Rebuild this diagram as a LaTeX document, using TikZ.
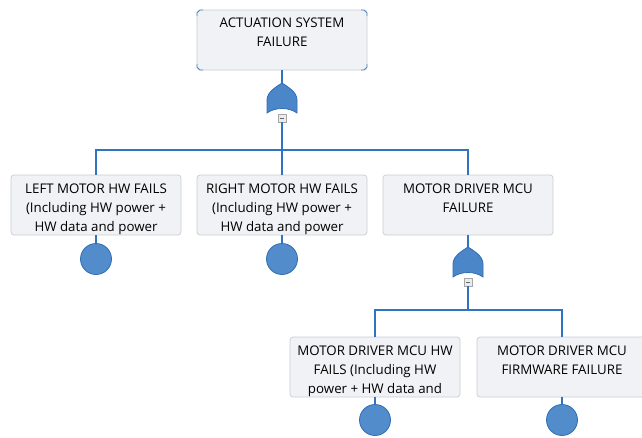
\documentclass[tikz,border=0pt]{standalone}
\usepackage{fontspec}
\setmainfont{Open Sans}
\usetikzlibrary{positioning}

\definecolor{boxfill}{HTML}{F1F2F5}
\definecolor{boxline}{HTML}{C9CCD1}
\definecolor{linkblue}{HTML}{2F74C0}
\definecolor{gateblue}{HTML}{4A86C8}
\definecolor{gateedge}{HTML}{2F6DB5}

% OR gate, drawn with its top point at the given coordinate
\newcommand{\orgate}[1]{%
  \begin{scope}[shift={(#1)}]
    \draw[gate] (-15,30) -- (-15,17) .. controls (-15,9) and (-6,4) .. (0,0)
      .. controls (6,4) and (15,9) .. (15,17) -- (15,30)
      .. controls (7,24) and (-7,24) .. (-15,30) -- cycle;
  \end{scope}}

\begin{document}
\begin{tikzpicture}[x=1pt,y=-1pt,
                    box/.style={draw=boxline,fill=boxfill,rounded corners=3pt,line width=0.7pt,
                                minimum width=170pt,minimum height=60pt,inner sep=0pt},
                    boxtext/.style={align=center,inner sep=0pt,font=\fontsize{13.3}{19}\selectfont,
                                    text=black},
                    gate/.style={fill=gateblue,draw=gateedge,line width=0.8pt},
                    collapse/.style={draw=black!35,fill=black!8,minimum size=8pt,inner sep=0pt,
                                     line width=0.5pt,
                                     path picture={\draw[black!60,line width=0.6pt] ([xshift=-2pt]path picture bounding box.center) -- ([xshift=2pt]path picture bounding box.center);}},
                    basic/.style={circle,fill=gateblue!95!white,draw=gateedge,line width=0.8pt,
                                  minimum size=31pt,inner sep=0pt},
                    link/.style={draw=linkblue,line width=2.8pt},
                    leaf/.style={draw=linkblue,line width=1.9pt}
]
\useasboundingbox (0,0) rectangle (642,437);

% Top event
\node[box] (top) at (282,40) {};
\node[boxtext,below=8.5pt of top.north] (toptxt) {ACTUATION SYSTEM\\FAILURE};
% selection marks on the corners
\foreach \cx/\cy/\dx/\dy in {197/10/1/1, 367/10/-1/1, 197/70/1/-1, 367/70/-1/-1}
  \draw[linkblue!80,line width=0.8pt] (\cx+\dx*6,\cy) -- (\cx+\dx*3,\cy) -- (\cx,\cy+\dy*3) -- (\cx,\cy+\dy*6);

% OR gate under the top event
\coordinate (gate1) at (282,83);
\orgate{gate1}
\node[collapse] (min1) at (282,118) {};
\coordinate (bar1) at (282,150);

% Second level
\node[box] (leftmotor) at (96,205) {};
\node[boxtext,below=9pt of leftmotor.north] (leftmotortxt) {LEFT MOTOR HW FAILS\\(Including HW power +\\HW data and power};
\node[box] (rightmotor) at (282,205) {};
\node[boxtext,below=9pt of rightmotor.north] (rightmotortxt) {RIGHT MOTOR HW FAILS\\(Including HW power +\\HW data and power};
\node[box] (mcu) at (468,205) {};
\node[boxtext,below=9pt of mcu.north] (mcutxt) {MOTOR DRIVER MCU\\FAILURE};

\draw[link] (top.south) -- (gate1);
\draw[link] (min1) -- (bar1);
\draw[link] (bar1) -| (leftmotor.north);
\draw[link] (bar1) -- (rightmotor.north);
\draw[link] (bar1) -| (mcu.north);

% Basic events
\node[basic] (leftev) at (96,259) {};
\node[basic] (rightev) at (282,259) {};
\draw[leaf] (leftmotor.south) -- (leftev.north);
\draw[leaf] (rightmotor.south) -- (rightev.north);

% OR gate under the MCU failure
\coordinate (gate2) at (468,247);
\orgate{gate2}
\node[collapse] (min2) at (468,282) {};
\coordinate (bar2) at (468,310);
\draw[link] (mcu.south) -- (gate2);
\draw[link] (min2) -- (bar2);

% Third level
\node[box] (mcuhw) at (375,367) {};
\node[boxtext,below=9pt of mcuhw.north] (mcuhwtxt) {MOTOR DRIVER MCU HW\\FAILS (Including HW\\power + HW data and};
\node[box] (mcufw) at (562,367) {};
\node[boxtext,below=9pt of mcufw.north] (mcufwtxt) {MOTOR DRIVER MCU\\FIRMWARE FAILURE};
\draw[link] (bar2) -| (mcuhw.north);
\draw[link] (bar2) -| (mcufw.north);

\node[basic] (mcuhwev) at (375,420) {};
\node[basic] (mcufwev) at (562,420) {};
\draw[leaf] (mcuhw.south) -- (mcuhwev.north);
\draw[leaf] (mcufw.south) -- (mcufwev.north);

\end{tikzpicture}
\end{document}
